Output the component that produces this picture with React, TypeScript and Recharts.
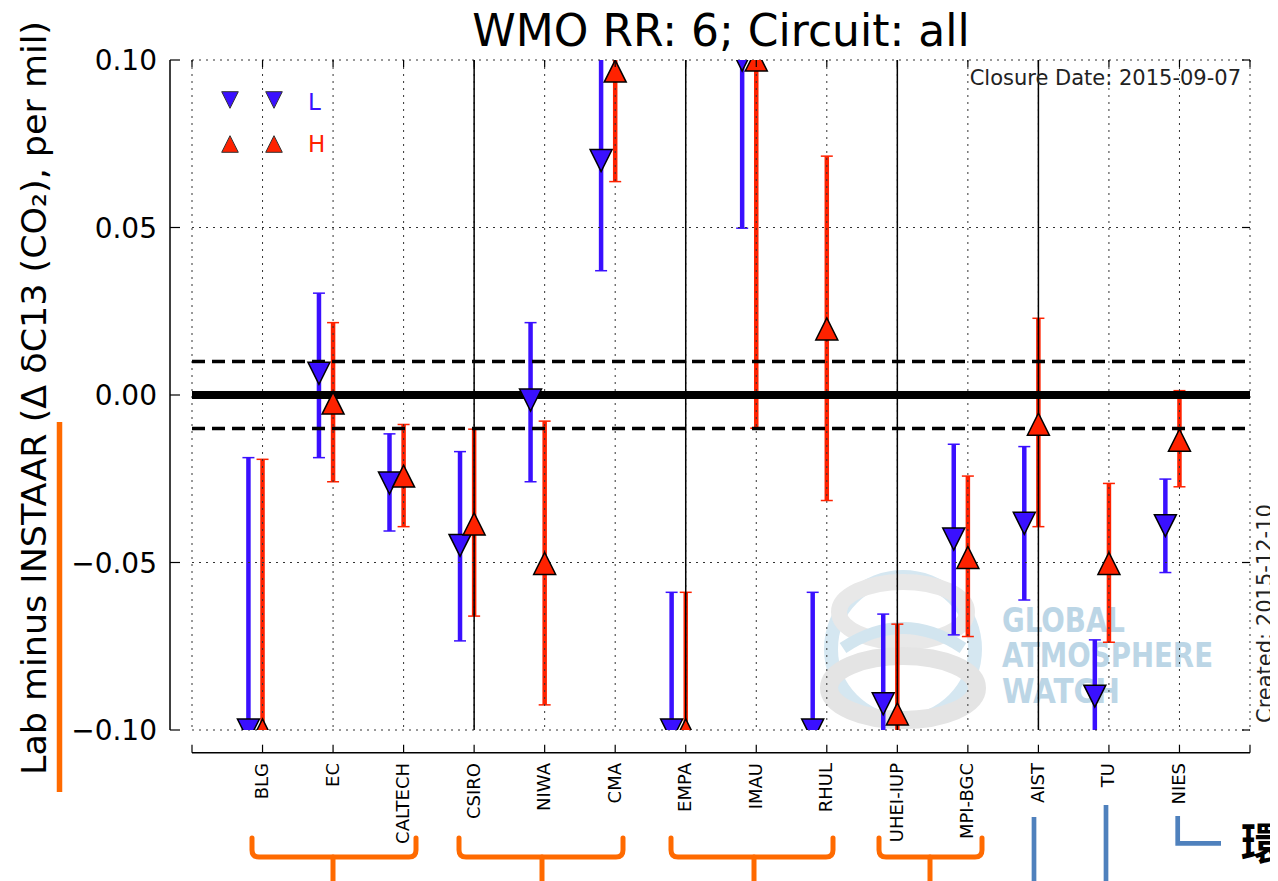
import React from "react";
import {
  ScatterChart,
  Scatter,
  XAxis,
  YAxis,
  CartesianGrid,
  ReferenceLine,
  ErrorBar,
} from "recharts";

const labs = [
  "BLG", "EC", "CALTECH", "CSIRO", "NIWA", "CMA", "EMPA",
  "IMAU", "RHUL", "UHEI-IUP", "MPI-BGC", "AIST", "TU", "NIES",
];

// L cylinder: value, top and bottom of its error bar (values past ±0.10 run off the plot)
const lowVal = [-0.1, 0.0065, -0.0263, -0.0449, -0.0015, 0.07, -0.1, 0.1, -0.1, -0.0922, -0.043, -0.0383, -0.0899, -0.039];
const lowTop = [-0.0187, 0.0304, -0.0116, -0.0169, 0.0216, 0.103, -0.0589, 0.15, -0.0589, -0.0654, -0.0147, -0.0154, -0.0731, -0.0251];
const lowBot = [-0.14, -0.0187, -0.0406, -0.0734, -0.0259, 0.0371, -0.14, 0.0498, -0.14, -0.119, -0.0716, -0.0612, -0.107, -0.053];

// H cylinder
const highVal = [-0.1, -0.0024, -0.0242, -0.0385, -0.0503, 0.0967, -0.1, 0.1, 0.0197, -0.0952, -0.0485, -0.0087, -0.0503, -0.0135];
const highTop = [-0.0192, 0.0216, -0.0088, -0.0102, -0.0078, 0.13, -0.0589, 0.21, 0.0713, -0.0684, -0.0242, 0.0229, -0.0264, 0.0013];
const highBot = [-0.14, -0.0259, -0.0393, -0.066, -0.0925, 0.0637, -0.14, -0.0099, -0.0315, -0.122, -0.0721, -0.0393, -0.0738, -0.0274];

const xTicks = [0, 1, 2, 3, 4, 5, 6, 7, 8, 9, 10, 11, 12, 13, 14, 15];
const yTicks = [-0.1, -0.05, 0, 0.05, 0.1];
const limitLines = [-0.01, 0.01];
const groupLines = [4, 7, 10, 12];

const BLUE = "#3a10ff";
const RED = "#ff2200";
const ORANGE = "#ff6a00";
const STEEL = "#4f81bd";
const FONT = "DejaVu Sans";

const W = 1270;
const H = 873;
const PLOT_LEFT = 184;
const PLOT_RIGHT = 1242;
const PLOT_TOP = 52;
const PLOT_BOTTOM = 722;
const SPINE_X = 162;
const SPINE_Y = 744.7;

const lowRows = labs.map((lab, i) => ({
  lab,
  x: i + 1 - 0.2,
  y: lowVal[i],
  err: [lowVal[i] - lowBot[i], lowTop[i] - lowVal[i]],
}));
const highRows = labs.map((lab, i) => ({
  lab,
  x: i + 1,
  y: highVal[i],
  err: [highVal[i] - highBot[i], highTop[i] - highVal[i]],
}));

function triPoints(cx: number, cy: number, r: number, down: boolean) {
  return down
    ? `${cx - r},${cy - r} ${cx + r},${cy - r} ${cx},${cy + r}`
    : `${cx - r},${cy + r} ${cx + r},${cy + r} ${cx},${cy - r}`;
}

const DownMarker = (p: any) => (
  <polygon points={triPoints(p.cx, p.cy, 11, true)} fill={BLUE} stroke="#000" strokeWidth={1.5} />
);
const UpMarker = (p: any) => (
  <polygon points={triPoints(p.cx, p.cy, 11, false)} fill={RED} stroke="#000" strokeWidth={1.5} />
);

function fmtY(v: number) {
  return (v < 0 ? "\u2212" : "") + Math.abs(v).toFixed(2);
}

function XTick(props: any) {
  const { x, payload } = props;
  const lab = labs[payload.value - 1];
  return (
    <g>
      <line x1={x} x2={x} y1={SPINE_Y} y2={SPINE_Y - 8} stroke="#000" strokeWidth={1.2} />
      <line x1={x} x2={x} y1={PLOT_TOP} y2={PLOT_TOP + 7} stroke="#000" strokeWidth={1.2} />
      {lab && (
        <text
          transform={`translate(${x + 5.5},755) rotate(-90)`}
          textAnchor="end"
          fontSize={18}
          fontFamily={FONT}
          fill="#000"
        >
          {lab}
        </text>
      )}
    </g>
  );
}

function YTick(props: any) {
  const { y, payload } = props;
  return (
    <g>
      <line x1={SPINE_X} x2={SPINE_X + 10} y1={y} y2={y} stroke="#000" strokeWidth={1.2} />
      <line x1={PLOT_RIGHT} x2={PLOT_RIGHT - 8} y1={y} y2={y} stroke="#000" strokeWidth={1.2} />
      <text x={149} y={y + 10} textAnchor="end" fontSize={28} fontFamily={FONT} fill="#000">
        {fmtY(payload.value)}
      </text>
    </g>
  );
}

function Brace({ left, right, mid }: { left: number; right: number; mid: number }) {
  const top = 830;
  const base = 849;
  const r = 7;
  return (
    <g fill="none" stroke={ORANGE} strokeWidth={5} strokeLinecap="round" strokeLinejoin="round">
      <path
        d={`M${left},${top} L${left},${base - r} Q${left},${base} ${left + r},${base} L${right - r},${base} Q${right},${base} ${right},${base - r} L${right},${top}`}
      />
      <path d={`M${mid},${base} L${mid},${H}`} />
    </g>
  );
}

function Watermark() {
  return (
    <svg width={W} height={H} style={{ position: "absolute", left: 0, top: 0 }}>
      <defs>
        <clipPath id="plotClip" clipPathUnits="userSpaceOnUse">
          <rect x={PLOT_LEFT} y={PLOT_TOP} width={PLOT_RIGHT - PLOT_LEFT} height={PLOT_BOTTOM - PLOT_TOP} />
        </clipPath>
      </defs>
      <g>
        <circle cx={895} cy={641} r={72} fill="none" stroke="#d5e7f1" strokeWidth={14} />
        <ellipse cx={895} cy={604} rx={64} ry={30} fill="none" stroke="#e8e8e8" strokeWidth={16} />
        <ellipse cx={895} cy={680} rx={74} ry={32} fill="none" stroke="#e4e4e4" strokeWidth={18} />
        <path d="M835,640 Q895,600 955,640" fill="none" stroke="#d2e5ef" strokeWidth={12} />
      </g>
      <g fill="#bcd6e6" fontFamily="Liberation Sans Narrow, DejaVu Sans Condensed, DejaVu Sans" fontWeight={700} fontSize={33}>
        <text x={994} y={624} textLength={123} lengthAdjust="spacingAndGlyphs">GLOBAL</text>
        <text x={994} y={659} textLength={211} lengthAdjust="spacingAndGlyphs">ATMOSPHERE</text>
        <text x={994} y={695} textLength={118} lengthAdjust="spacingAndGlyphs">WATCH</text>
      </g>
    </svg>
  );
}

function Overlay() {
  return (
    <svg
      width={W}
      height={H}
      style={{ position: "absolute", left: 0, top: 0, pointerEvents: "none", overflow: "hidden" }}
    >
      <text x={713} y={38} textAnchor="middle" fontSize={44} fontFamily={FONT} fill="#000">
        WMO RR: 6; Circuit: all
      </text>
      <text
        transform="translate(38,390) rotate(-90)"
        textAnchor="middle"
        fontSize={34}
        fontFamily={FONT}
        fill="#000"
        textLength={754}
        lengthAdjust="spacingAndGlyphs"
      >
        Lab minus INSTAAR (Δ δC13 (CO₂), per mil)
      </text>
      <text x={1233} y={77} textAnchor="end" fontSize={21} fontFamily={FONT} fill="#222">
        Closure Date: 2015-09-07
      </text>
      <text transform="translate(1264,715) rotate(-90)" fontSize={21} fontFamily={FONT} fill="#222">
        Created: 2015-12-10
      </text>

      {/* legend */}
      <polygon points={triPoints(222, 92, 8.3, true)} fill={BLUE} stroke="#333" strokeWidth={1} />
      <polygon points={triPoints(266, 92, 8.3, true)} fill={BLUE} stroke="#333" strokeWidth={1} />
      <text x={300} y={102} fontSize={23} fontFamily={FONT} fill={BLUE}>L</text>
      <polygon points={triPoints(222, 136, 8.3, false)} fill={RED} stroke="#333" strokeWidth={1} />
      <polygon points={triPoints(266, 136, 8.3, false)} fill={RED} stroke="#333" strokeWidth={1} />
      <text x={300} y={144} fontSize={23} fontFamily={FONT} fill={RED}>H</text>

      {/* hand-drawn annotations */}
      <line x1={51.5} x2={51.5} y1={414} y2={784} stroke={ORANGE} strokeWidth={5.5} />
      <Brace left={244} right={408} mid={325} />
      <Brace left={451} right={615} mid={534} />
      <Brace left={663} right={825} mid={746} />
      <Brace left={871} right={974} mid={922} />
      <g stroke={STEEL} strokeWidth={4.7} fill="none">
        <line x1={1026} x2={1026} y1={809} y2={H} />
        <line x1={1098} x2={1098} y1={797} y2={H} />
        <path d="M1169.7,808 L1169.7,835.3 L1213,835.3" />
      </g>
      <text x={1233} y={852} fontSize={44} fontFamily="Noto Sans CJK TC" fontWeight={700} fill="#000">
        環
      </text>
    </svg>
  );
}

const clipCss = `
.recharts-scatter, .recharts-errorBars, .recharts-errorBar, .recharts-scatter-symbol {
  clip-path: url(#plotClip);
}
`;

export default function App() {
  return (
    <div style={{ position: "relative", width: W, height: H }}>
      <style>{clipCss}</style>
      <Watermark />
      <div style={{ position: "absolute", left: 0, top: 0 }}>
        <ScatterChart
          width={W}
          height={H}
          margin={{ top: PLOT_TOP, right: W - PLOT_RIGHT, bottom: 0, left: 0 }}
        >
          <XAxis
            type="number"
            dataKey="x"
            domain={[0, 15]}
            ticks={xTicks}
            interval={0}
            height={H - PLOT_BOTTOM}
            axisLine={{ stroke: "#000", strokeWidth: 1.5, transform: `translate(0,${SPINE_Y - PLOT_BOTTOM})` }}
            tickLine={false}
            tick={<XTick />}
          />
          <YAxis
            type="number"
            dataKey="y"
            domain={[-0.1, 0.1]}
            ticks={yTicks}
            interval={0}
            allowDataOverflow
            width={PLOT_LEFT}
            axisLine={{ stroke: "#000", strokeWidth: 1.5, transform: `translate(${SPINE_X - PLOT_LEFT},0)` }}
            tickLine={false}
            tick={<YTick />}
          />

          <Scatter data={lowRows} shape={() => <g />} isAnimationActive={false} zIndex={100}>
            <ErrorBar dataKey="err" direction="y" width={0} strokeWidth={4.5} stroke={BLUE} isAnimationActive={false} zIndex={100} />
            <ErrorBar dataKey="err" direction="y" width={6} strokeWidth={1.5} stroke={BLUE} isAnimationActive={false} zIndex={100} />
          </Scatter>
          <Scatter data={highRows} shape={() => <g />} isAnimationActive={false} zIndex={110}>
            <ErrorBar dataKey="err" direction="y" width={0} strokeWidth={4.5} stroke={RED} isAnimationActive={false} zIndex={110} />
            <ErrorBar dataKey="err" direction="y" width={6} strokeWidth={1.5} stroke={RED} isAnimationActive={false} zIndex={110} />
          </Scatter>

          <CartesianGrid stroke="#333" strokeDasharray="2 5" strokeWidth={1} zIndex={200} />

          <ReferenceLine y={0} stroke="#000" strokeWidth={8} zIndex={300} />
          {limitLines.map((v) => (
            <ReferenceLine key={v} y={v} stroke="#000" strokeWidth={3.5} strokeDasharray="13 7" zIndex={300} />
          ))}
          {groupLines.map((v) => (
            <ReferenceLine key={v} x={v} stroke="#000" strokeWidth={1.5} zIndex={300} />
          ))}

          <Scatter data={lowRows} shape={DownMarker} isAnimationActive={false} zIndex={400} />
          <Scatter data={highRows} shape={UpMarker} isAnimationActive={false} zIndex={410} />
        </ScatterChart>
      </div>
      <Overlay />
    </div>
  );
}
